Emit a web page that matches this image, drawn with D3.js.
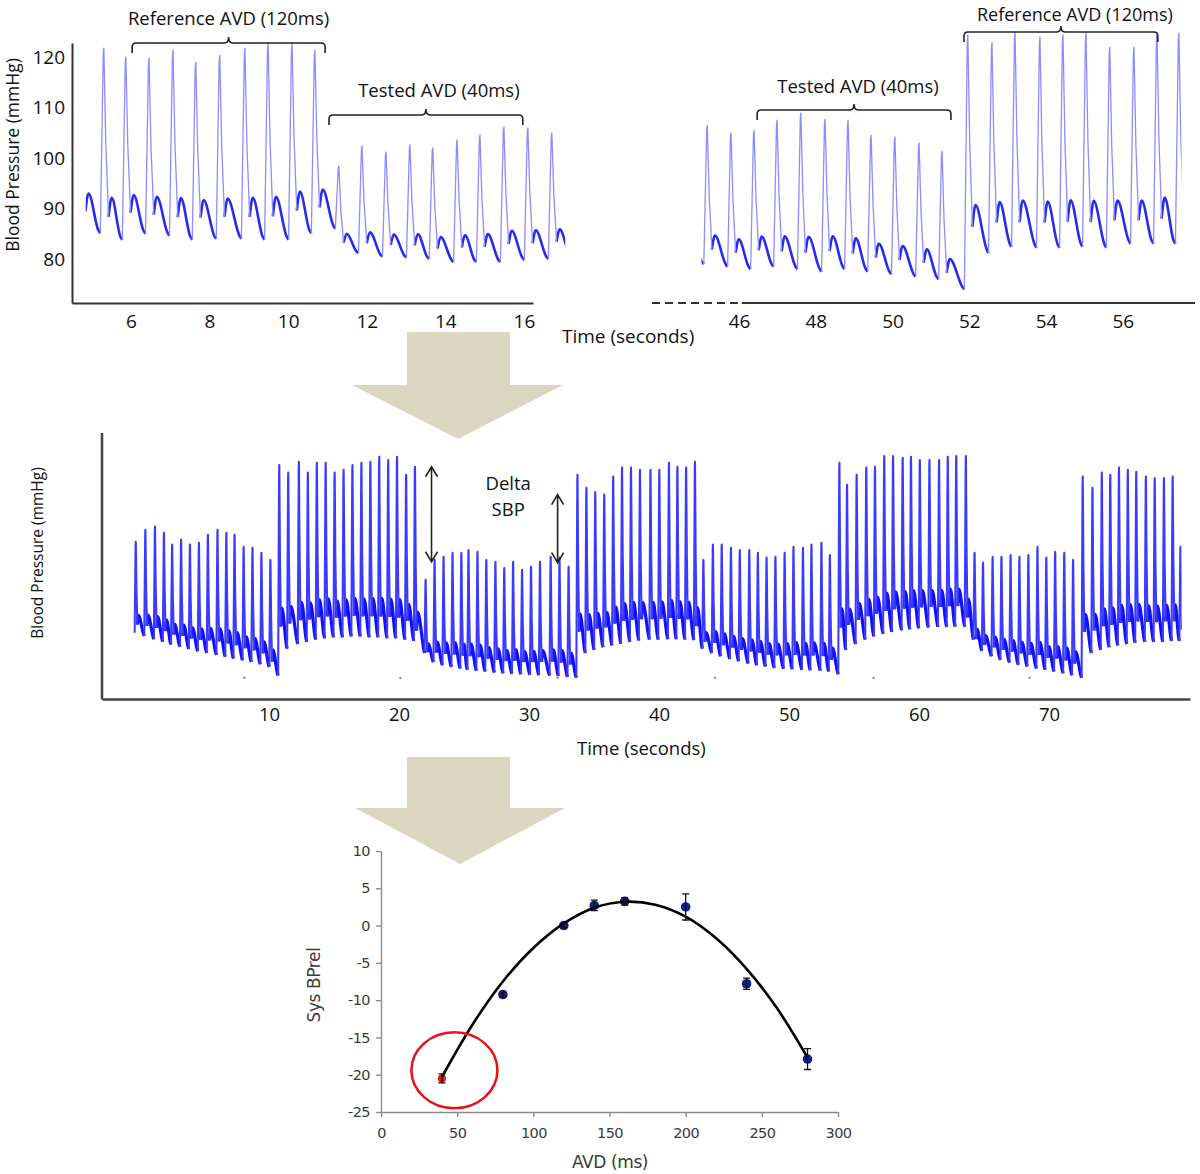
<!DOCTYPE html>
<html><head><meta charset="utf-8">
<script src="https://cdn.jsdelivr.net/npm/d3@7"></script>
<style>body{margin:0;background:#fff}svg{display:block}</style>
</head><body>
<svg id="c" width="1200" height="1174"></svg>
<script>
// ================= DATA =================
// Top-left recording (time s, peak mmHg, diastolic minimum before each upstroke)
const tlBeatTimes = [4.72,5.31,5.87,6.46,7.07,7.65,8.26,8.9,9.49,10.1,10.68,11.29,11.88,12.49,13.1,13.68,14.3,14.88,15.49,16.1,16.71,17.3];
const tlPeaks     = [121,121.8,120,119.8,121.4,119,120.4,121.8,122.7,122.7,121.4,98.4,102.4,101.2,102.6,102,103.6,104.6,106.2,106,105,104];
const tlTroughs   = [85,85.1,83.8,85,84.6,83.8,84,84,83.8,83.8,85.1,86,81.2,80.5,80.3,80,79.4,79.4,79.4,79.8,80,80.5];
const tlWindow    = [4.85,17.05];
const tlTicksX = [6,8,10,12,14,16];
const tlTicksY = [80,90,100,110,120];

// Top-right recording
const trBeatTimes = [44.55,45.17,45.79,46.39,46.99,47.61,48.24,48.84,49.44,50.06,50.69,51.29,51.96,52.59,53.19,53.84,54.44,55.04,55.66,56.29,56.89,57.46,58.06];
const trPeaks     = [105,106.5,105,105.5,107.5,108.9,107.7,107.5,104.5,104.2,103,101.4,124.4,122.8,125,124,124.4,124.7,122,122,124.7,124.7,124];
const trTroughs   = [79.5,79,78.5,78,78.5,78,77.5,78,77.5,77,76.5,76,74,81.2,82.4,82.2,82.2,82.4,82.2,83,83,83,84];
const trWindow    = [45.02,57.53];
const trTicksX = [46,48,50,52,54,56];

// Annotations on the top recordings: [label, start s, end s]
const tlBrackets = [["Reference AVD (120ms)",6.03,10.94],["Tested AVD (40ms)",11.04,15.97]];
const trBrackets = [["Tested AVD (40ms)",46.47,51.52],["Reference AVD (120ms)",51.86,56.91]];

// Middle recording, one array per AVD block
const midBeatTimes = [
 [-0.25,0.49,1.23,1.92,2.55,3.24,3.92,4.61,5.3,6.04,6.72,7.35,8.05,8.73,9.42,10.11],
 [10.79,11.48,12.3,12.99,13.68,14.36,15.05,15.74,16.42,17.11,17.8,18.48,19.17,19.85,20.55,21.23],
 [22.05,22.74,23.43,24.12,24.8,25.35,26.04,26.72,27.42,28.1,28.78,29.47,30.16,30.85,31.67,32.35,33.05],
 [33.73,34.42,35.1,35.79,36.48,37.16,37.85,38.54,39.35,40.03,40.77,41.42,42.09,42.77],
 [43.42,44.15,44.83,45.54,46.22,46.95,47.61,48.28,48.96,49.67,50.35,51.08,51.73,52.5,53.15],
 [53.88,54.47,55.21,55.95,56.62,57.33,58.01,58.75,59.39,60.07,60.81,61.55,62.22,62.87,63.61],
 [64.28,64.93,65.67,66.35,67.05,67.73,68.42,69.12,69.8,70.48,71.18,71.86],
 [72.6,73.35,74.07,74.72,75.39,76.07,76.72,77.46,78.14,78.85,79.52,80.12]
];
const midPeaks = [
 [106.2,108.9,109.6,108.2,105.6,106.7,105.6,106.0,107.8,108.9,108.2,107.8,105.1,104.9,103.8,102.2],
 [123.3,121.6,124.0,121.6,123.8,123.8,121.6,122.2,123.3,123.8,124.0,125.1,124.4,125.1,121.1,122.9],
 [97.8,102.2,102.9,103.8,103.8,104.4,104.0,102.2,101.8,100.4,101.8,100.0,100.7,101.8,102.9,102.7,100.7],
 [121.1,118.2,117.3,116.7,120.7,122.7,122.7,122.2,122.2,122.2,123.8,122.9,122.7,124.0],
 [102.2,105.6,105.6,104.9,104.4,104.4,103.8,102.7,102.9,103.8,105.1,104.9,105.6,106.0,103.3],
 [123.8,118.9,121.1,122.7,122.9,125.3,125.3,124.9,125.1,124.4,124.4,124.4,125.1,125.3,125.3],
 [103.8,101.6,102.9,102.9,103.3,102.9,103.3,105.1,102.7,104.0,103.8,102.2],
 [120.7,118.2,121.6,121.1,122.7,122.2,121.8,120.7,120.4,120.4,120.7,105.1]
];
const midTroughs = [
 [86,85.3,84.6,84,83.4,82.9,82.4,81.9,81.5,81.1,80.7,80.3,79.9,79.5,79,78.4],
 [76.5,82.5,83.5,84,84.5,84.8,85,85,85.2,85.2,85,85,84.8,84.8,84.5,84.2],
 [81.5,79.5,78.8,78.4,78.1,77.8,77.6,77.4,77.2,77,76.9,76.8,76.7,76.6,76.5,76.4,76.2],
 [76,81.5,82.2,82.8,83.2,83.6,84,84.3,84.5,84.5,84.6,84.6,84.5,84.4],
 [82.5,81.5,80.8,80.2,79.7,79.2,78.8,78.5,78.2,78,77.9,77.8,77.7,77.6,77.4],
 [76.8,82.2,83.5,84.5,85.2,85.8,86.2,86.6,86.8,87,87.2,87.3,87.3,87.4,87.4],
 [84.5,82,80.8,80,79.4,78.9,78.5,78.1,77.8,77.4,77,76.6],
 [76,81.5,82.2,82.8,83.2,83.5,83.8,84,84,84,84.2,84.2]
];
const midWindow = [-0.45,80.2];
const midTicksX = [10,20,30,40,50,60,70];
const midMarkerT = [8.1,20.1,32.2,44.3,56.5,68.5];
const deltaT = [22.5,32.2];
const deltaHigh = [122.9,116.7];
const deltaLow = [101.8,101.6];

// Bottom: relative systolic BP vs AVD
const avd    = [40,80,120,140,160,200,240,280];
const sysRel = [-20.5,-9.25,0,2.7,3.25,2.5,-7.8,-17.9];
const sysErr = [0.6,0.3,0.3,0.7,0.5,1.75,0.75,1.4];
const fitAVD = [40,60,80,100,120,140,160,180,200,220,240,260,280];
const fitSys = [-20.3,-13.3,-7.5,-3.0,0.3,2.4,3.2,2.8,1.2,-1.7,-5.8,-11.1,-17.7];
const bTicksX = [0,50,100,150,200,250,300];
const bTicksY = [-25,-20,-15,-10,-5,0,5,10];

// ================= DRAWING =================
const svg = d3.select('#c');
const FONT = "'Open Sans', sans-serif";
const BFONT = "'DejaVu Sans', sans-serif";

// beige arrows (decorative)
const beige = '#dcd6c1';
[[[407,332],[510,332],[510,385],[563,385],[458,439],[352,385],[407,385]],
 [[407,757],[510,757],[510,808],[565,808],[460,864],[355,808],[407,808]]].forEach(p=>{
  svg.append('polygon').attr('points',p.map(d=>d.join(',')).join(' ')).attr('fill',beige);
});

function beatPaths(times, peaks, troughs, x, y){
  const up=0.09, down=0.12, bmp=0.08;
  const lin = d3.line().x(d=>x(d[0])).y(d=>y(d[1]));
  const cur = d3.line().x(d=>x(d[0])).y(d=>y(d[1])).curve(d3.curveMonotoneX);
  let s='', t='';
  times.forEach((tp,i)=>{
    const P=peaks[i], T0=troughs[i];
    const nx = i+1<times.length;
    const T1 = nx ? troughs[i+1] : T0;
    const tn = nx ? times[i+1] : tp+0.6;
    const notch=T1+0.12*(P-T1), bump=T1+0.22*(P-T1), mid=T1+0.5*(P-T1);
    s += lin([[tp-up,T0],[tp-0.015,P-0.03*(P-T0)],[tp,P],[tp+0.05,mid],[tp+down,notch]]);
    t += cur([[tp+down,notch],[tp+down+bmp,bump],[tn-up-0.05,T1+0.08*(bump-T1)],[tn-up,T1]]);
  });
  return [s,t];
}
function drawTrace(id, times, peaks, troughs, x, y, win, light, dark, wl, wd){
  svg.append('clipPath').attr('id',id).append('rect')
    .attr('x',x(win[0])).attr('width',x(win[1])-x(win[0])).attr('y',0).attr('height',1174);
  const [s,t] = beatPaths(times,peaks,troughs,x,y);
  const g = svg.append('g').attr('clip-path',`url(#${id})`);
  g.append('path').attr('d',t).attr('fill','none').attr('stroke',dark).attr('stroke-width',wd).attr('stroke-linejoin','round');
  g.append('path').attr('d',s).attr('fill','none').attr('stroke',light).attr('stroke-width',wl).attr('stroke-linejoin','round');
}
function styleAxis(g, size, color, font){
  g.selectAll('text').attr('font-family',font||FONT).attr('font-size',size).attr('fill',color||'#111');
}
function bracket(x1,x2,y,drop,rise){
  const cx=(x1+x2)/2, r=4;
  svg.append('path').attr('d',
    `M${x1},${y+drop}L${x1},${y+r}Q${x1},${y} ${x1+r},${y}L${cx-r},${y}Q${cx},${y} ${cx},${y-rise}Q${cx},${y} ${cx+r},${y}L${x2-r},${y}Q${x2},${y} ${x2},${y+r}L${x2},${y+drop}`)
    .attr('fill','none').attr('stroke','#222').attr('stroke-width',1.6);
}
function label(txt,x,y,size,anchor){
  return svg.append('text').attr('x',x).attr('y',y).attr('font-family',FONT).attr('font-size',size)
    .attr('text-anchor',anchor||'middle').attr('fill','#111').text(txt);
}

// ---------- top-left ----------
const xTL = d3.scaleLinear().domain([4.5,16.23]).range([72,533]);
const yTop = d3.scaleLinear().domain([71.3,122.8]).range([303,43]);
drawTrace('clTL', tlBeatTimes, tlPeaks, tlTroughs, xTL, yTop, tlWindow, '#8c8cff', '#2a2aee', 1.3, 2.6);
const gTLx = svg.append('g').attr('transform','translate(0,303)')
  .call(d3.axisBottom(xTL).tickValues(tlTicksX).tickSize(0).tickSizeOuter(0).tickPadding(12));
const gTLy = svg.append('g').attr('transform','translate(72,0)')
  .call(d3.axisLeft(yTop).tickValues(tlTicksY).tickSize(0).tickSizeOuter(0).tickPadding(7));
[gTLx,gTLy].forEach(g=>{ g.select('.domain').attr('stroke','#333').attr('stroke-width',2); styleAxis(g,19); });
svg.append('text').attr('transform','translate(19,155) rotate(-90)').attr('text-anchor','middle')
  .attr('font-family',FONT).attr('font-size',17.5).attr('fill','#111').text('Blood Pressure (mmHg)');
const tlBY = [43,115], tlTY = [25,97], tlTX = [0,13];
tlBrackets.forEach((b,i)=>{
  bracket(xTL(b[1]),xTL(b[2]),tlBY[i],10,6);
  label(b[0],(xTL(b[1])+xTL(b[2]))/2+tlTX[i],tlTY[i],18.5);
});
label('Time (seconds)',562,343,19,'start');

// ---------- top-right ----------
const xTR = d3.scaleLinear().domain([43.73,57.88]).range([652,1195]);
drawTrace('clTR', trBeatTimes, trPeaks, trTroughs, xTR, yTop, trWindow, '#8c8cff', '#2a2aee', 1.3, 2.6);
const gTRx = svg.append('g').attr('transform','translate(0,303)')
  .call(d3.axisBottom(xTR).tickValues(trTicksX).tickSize(0).tickSizeOuter(0).tickPadding(12));
gTRx.select('.domain').remove(); styleAxis(gTRx,19);
svg.append('line').attr('x1',xTR(43.73)).attr('x2',xTR(45.97)).attr('y1',303).attr('y2',303)
  .attr('stroke','#333').attr('stroke-width',2).attr('stroke-dasharray','8,5');
svg.append('line').attr('x1',xTR(46.07)).attr('x2',xTR(57.88)).attr('y1',303).attr('y2',303)
  .attr('stroke','#333').attr('stroke-width',2);
const trBY = [110,32], trTY = [93,21], trTX = [4,14];
trBrackets.forEach((b,i)=>{
  bracket(xTR(b[1]),xTR(b[2]),trBY[i],10,6);
  label(b[0],(xTR(b[1])+xTR(b[2]))/2+trTX[i],trTY[i],i===1?18:18.5);
});

// ---------- middle ----------
const xM = d3.scaleLinear().domain([-2.85,80.85]).range([102,1190]);
const yM = d3.scaleLinear().domain([71.3,130.4]).range([699,433]);
drawTrace('clM', midBeatTimes.flat(), midPeaks.flat(), midTroughs.flat(), xM, yM, midWindow, '#3b3bff', '#1010ff', 2.1, 3.2);
svg.append('g').selectAll('circle').data(midMarkerT).join('circle')
  .attr('cx',d=>xM(d)).attr('cy',yM(76)).attr('r',1.1).attr('fill','#777');
const gMx = svg.append('g').attr('transform','translate(0,699)')
  .call(d3.axisBottom(xM).tickValues(midTicksX).tickSize(0).tickSizeOuter(0).tickPadding(9));
gMx.select('.domain').attr('stroke','#444').attr('stroke-width',2.5); styleAxis(gMx,18.5);
svg.append('line').attr('x1',102).attr('x2',102).attr('y1',433).attr('y2',699.5).attr('stroke','#444').attr('stroke-width',2.5);
svg.append('text').attr('transform','translate(43,553) rotate(-90)').attr('text-anchor','middle')
  .attr('font-family',FONT).attr('font-size',15.5).attr('fill','#111').text('Blood Pressure (mmHg)');
label('Time (seconds)',577,755,18.5,'start');
deltaT.forEach((t,i)=>{
  const x=xM(t), y1=yM(deltaHigh[i]), y2=yM(deltaLow[i]);
  svg.append('path').attr('d',`M${x},${y1}L${x},${y2}M${x-6},${y1+10}L${x},${y1}L${x+6},${y1+10}M${x-6},${y2-10}L${x},${y2}L${x+6},${y2-10}`)
    .attr('fill','none').attr('stroke','#222').attr('stroke-width',1.6);
});
label('Delta',xM(28.4),490,18.5);
label('SBP',xM(28.4),516,18.5);

// ---------- bottom ----------
const xB = d3.scaleLinear().domain([0,300]).range([381,838]);
const yB = d3.scaleLinear().domain([-25,10]).range([1112,851]);
const fmt = d => String(d);
const gBx = svg.append('g').attr('transform','translate(0,1112)')
  .call(d3.axisBottom(xB).tickValues(bTicksX).tickFormat(fmt).tickSize(5).tickSizeOuter(0).tickPadding(11));
const gBy = svg.append('g').attr('transform','translate(381,0)')
  .call(d3.axisLeft(yB).tickValues(bTicksY).tickFormat(fmt).tickSize(5).tickSizeOuter(0).tickPadding(6));
[gBx,gBy].forEach(g=>{
  g.selectAll('.domain,.tick line').attr('stroke','#8c8c8c').attr('stroke-width',1.4);
  styleAxis(g,14.5,'#3a3a3a',BFONT);
});
gBx.selectAll('text').attr('letter-spacing',-0.6);
gBy.selectAll('text').attr('letter-spacing',-0.6);
svg.append('text').attr('transform','translate(320,985) rotate(-90)').attr('text-anchor','middle')
  .attr('font-family',BFONT).attr('font-size',17).attr('fill','#3a3a3a').attr('letter-spacing',-0.4).text('Sys BPrel');
svg.append('text').attr('x',610).attr('y',1168).attr('text-anchor','middle')
  .attr('font-family',BFONT).attr('font-size',17).attr('fill','#3a3a3a').attr('letter-spacing',-0.4).text('AVD (ms)');
const pts = avd.map((a,i)=>({a, v:sysRel[i], e:sysErr[i], red: a===40}));
svg.append('g').selectAll('circle').data(pts).join('circle')
  .attr('cx',d=>xB(d.a)).attr('cy',d=>yB(d.v)).attr('r',d=>d.red?4:4.8)
  .attr('fill',d=>d.red?'#e01818':'#101e8e');
svg.append('path').datum(fitAVD.map((a,i)=>[a,fitSys[i]]))
  .attr('d',d3.line().x(d=>xB(d[0])).y(d=>yB(d[1])).curve(d3.curveCatmullRom))
  .attr('fill','none').attr('stroke','#000').attr('stroke-width',2.6);
const eg = svg.append('g').attr('stroke','#111').attr('stroke-width',1.3);
pts.forEach(d=>{
  const x=xB(d.a), y1=yB(d.v+d.e), y2=yB(d.v-d.e);
  eg.append('path').attr('d',`M${x},${y1}L${x},${y2}M${x-3.5},${y1}L${x+3.5},${y1}M${x-3.5},${y2}L${x+3.5},${y2}`).attr('fill','none');
});
svg.append('ellipse').attr('cx',xB(48.2)).attr('cy',yB(-19.4)).attr('rx',43).attr('ry',38)
  .attr('fill','none').attr('stroke','#e8141b').attr('stroke-width',2.6);
</script>
</body></html>
